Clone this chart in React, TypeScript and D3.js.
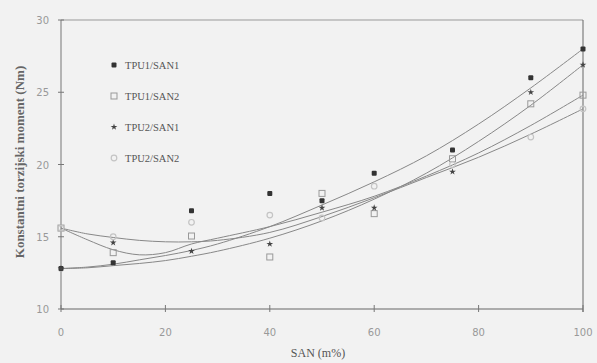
import React from "react";
import * as d3 from "d3";

const xValues = [0, 10, 25, 40, 50, 60, 75, 90, 100];
const seriesNames = ["TPU1/SAN1", "TPU1/SAN2", "TPU2/SAN1", "TPU2/SAN2"];
const tpu1san1 = [12.8, 13.2, 16.8, 18.0, 17.5, 19.4, 21.0, 26.0, 28.0];
const tpu1san2 = [15.6, 13.9, 15.05, 13.6, 18.0, 16.6, 20.4, 24.2, 24.8];
const tpu2san1 = [12.8, 14.6, 14.0, 14.5, 17.0, 17.0, 19.5, 25.0, 26.9];
const tpu2san2 = [15.6, 15.0, 16.0, 16.5, 16.3, 18.5, 20.0, 21.9, 23.85];

// fitted trend curves
const fitX = [0, 5, 10, 15, 20, 25, 30, 40, 50, 60, 70, 80, 90, 100];
const fit1 = [12.8, 12.9, 13.1, 13.4, 13.7, 14.05, 14.5, 15.7, 17.2, 18.8, 20.6, 22.8, 25.3, 28.0];
const fit2 = [15.6, 14.8, 14.1, 13.75, 13.9, 14.5, 14.9, 15.7, 16.7, 17.8, 19.2, 20.8, 22.7, 24.8];
const fit3 = [12.8, 12.85, 13.0, 13.15, 13.35, 13.65, 14.0, 14.9, 16.1, 17.6, 19.4, 21.6, 24.1, 26.9];
const fit4 = [15.6, 15.2, 14.95, 14.75, 14.65, 14.65, 14.75, 15.3, 16.4, 17.7, 19.1, 20.5, 22.1, 23.85];

const xTicks = [0, 20, 40, 60, 80, 100];
const yTicks = [10, 15, 20, 25, 30];

const W = 597, H = 363;
const x = d3.scaleLinear().domain([0, 100]).range([61, 583]);
const y = d3.scaleLinear().domain([10, 30]).range([309, 20]);

const pts = [tpu1san1, tpu1san2, tpu2san1, tpu2san2];
const fits = [fit1, fit2, fit3, fit4];

function Marker({ kind, cx, cy }: { kind: number; cx: number; cy: number }) {
  if (kind === 0) return <rect x={cx - 2.5} y={cy - 2.5} width={5} height={5} rx={1} fill="#333" />;
  if (kind === 1)
    return <rect x={cx - 3} y={cy - 3} width={6} height={6} fill="none" stroke="#999" strokeWidth={1} />;
  if (kind === 2) {
    const p = d3.symbol().type(d3.symbolStar).size(14)();
    return <path d={p || ""} transform={`translate(${cx},${cy})`} fill="#444" />;
  }
  return <circle cx={cx} cy={cy} r={2.8} fill="none" stroke="#c4c4c4" strokeWidth={1.2} />;
}

export default function App() {
  const line = d3
    .line<number>()
    .x((_, i) => x(fitX[i]))
    .y((d) => y(d))
    .curve(d3.curveCatmullRom.alpha(0.5));
  return (
    <svg
      width={W}
      height={H}
      style={{ position: "absolute", left: 0, top: 0, background: "#f2f2f2" }}
    >
      <rect width={W} height={H} fill="#f2f2f2" />
      {/* frame */}
      <line x1={61} y1={20} x2={583} y2={20} stroke="#999" strokeWidth={1} />
      <line x1={583} y1={20} x2={583} y2={312} stroke="#666" strokeWidth={1} />
      <line x1={61} y1={20} x2={61} y2={309} stroke="#777" strokeWidth={1} />
      <line x1={61} y1={309} x2={583} y2={309} stroke="#666" strokeWidth={1.2} />
      {yTicks.map((t) => (
        <g key={"y" + t}>
          <line x1={58} x2={64} y1={y(t)} y2={y(t)} stroke="#777" />
          <text
            x={49}
            y={y(t) + 4}
            textAnchor="end"
            fontFamily="DejaVu Sans, sans-serif"
            fontSize={10}
            fill="#999"
          >
            {t}
          </text>
        </g>
      ))}
      {xTicks.map((t) => (
        <g key={"x" + t}>
          <line x1={x(t)} x2={x(t)} y1={305} y2={312} stroke="#777" />
          <text
            x={x(t)}
            y={336}
            textAnchor="middle"
            fontFamily="DejaVu Sans, sans-serif"
            fontSize={10}
            fill="#999"
          >
            {t}
          </text>
        </g>
      ))}
      <text
        x={318}
        y={357}
        textAnchor="middle"
        fontFamily="Liberation Serif, serif"
        fontSize={12}
        fill="#555"
      >
        SAN (m%)
      </text>
      <text
        transform={`translate(24,162) rotate(-90)`}
        textAnchor="middle"
        fontFamily="Liberation Serif, serif"
        fontSize={13}
        fontWeight="bold"
        fill="#666"
      >
        Konstantni torzijski moment (Nm)
      </text>
      {/* fit curves */}
      {fits.map((f, i) => (
        <path key={"f" + i} d={line(f) || ""} fill="none" stroke="#888" strokeWidth={1} />
      ))}
      {/* points */}
      {pts.map((s, k) =>
        s.map((v, i) => <Marker key={k + "-" + i} kind={k} cx={x(xValues[i])} cy={y(v)} />)
      )}
      {/* legend */}
      {seriesNames.map((n, k) => (
        <g key={"l" + k}>
          <Marker kind={k} cx={114} cy={65 + k * 31} />
          <text
            x={125}
            y={65 + k * 31 + 4}
            fontFamily="Liberation Serif, serif"
            fontSize={10.5}
            fill="#555"
          >
            {n}
          </text>
        </g>
      ))}
    </svg>
  );
}
